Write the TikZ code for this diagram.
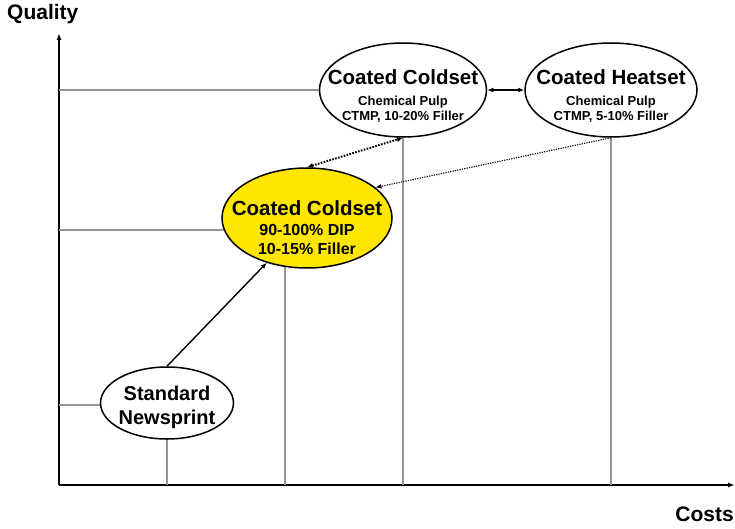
\documentclass[tikz,border=0pt]{standalone}
\usepackage{fontspec}
\setmainfont{Liberation Sans}
\usetikzlibrary{shapes.geometric,arrows.meta}
\definecolor{paperyellow}{RGB}{255,230,0}
\definecolor{gridgray}{RGB}{150,150,150}
\tikzset{
  bubble/.style={ellipse, draw=black, line width=1.5pt, fill=white, inner sep=0pt},
  grid line/.style={draw=gridgray, line width=1.1pt},
  axis/.style={draw=black, line width=1.6pt, -{Latex[length=7pt,width=5pt]}},
  link/.style={line width=1.4pt, -{Latex[length=6pt,width=5pt]}},
  title/.style={anchor=base, inner sep=0pt, font=\bfseries\fontsize{20.5}{22}\selectfont},
  subline/.style={anchor=base, inner sep=0pt, font=\bfseries\fontsize{13}{14}\selectfont},
}
\begin{document}
\begin{tikzpicture}[x=1pt, y=-1pt]
\useasboundingbox (0,0) rectangle (735,529);

% axes
\coordinate (origin) at (59,485);
\coordinate (ytip) at (59,33);
\coordinate (xtip) at (735,485);
\draw[axis] (origin) -- (ytip);
\draw[axis] (origin) -- (xtip);
\node[anchor=base west, inner sep=0pt, font=\bfseries\fontsize{21}{22}\selectfont] (qlabel) at (7,20) {Quality};
\node[anchor=base east, inner sep=0pt, font=\bfseries\fontsize{21}{22}\selectfont] (clabel) at (734,521) {Costs};

% reference points for the guide lines
\coordinate (ccC) at (403,90);
\coordinate (hsC) at (611,90);
\coordinate (ycC) at (307,218);
\coordinate (ycLevel) at (307,230);
\coordinate (ycFoot) at (285,218);
\coordinate (nsC) at (167,403);
\coordinate (nsLevel) at (167,405);

% guide lines to the axes (covered by the ellipses)
\draw[grid line] (ccC) -- (ccC -| origin);
\draw[grid line] (ccC) -- (ccC |- origin);
\draw[grid line] (hsC) -- (hsC |- origin);
\draw[grid line] (ycLevel) -- (ycLevel -| origin);
\draw[grid line] (ycFoot) -- (ycFoot |- origin);
\draw[grid line] (nsLevel) -- (nsLevel -| origin);
\draw[grid line] (nsC) -- (nsC |- origin);

% paper grades
\node[bubble, minimum width=167pt, minimum height=94pt] (cc) at (ccC) {};
\node[bubble, minimum width=172pt, minimum height=94pt] (hs) at (hsC) {};
\node[bubble, fill=paperyellow, minimum width=170pt, minimum height=100pt] (yc) at (ycC) {};
\node[bubble, minimum width=133pt, minimum height=72pt] (ns) at (nsC) {};

\node[title] (cc-t) at (403,85) {Coated Coldset};
\node[subline] (cc-a) at (403,106) {Chemical Pulp};
\node[subline] (cc-b) at (403,121) {CTMP, 10-20\% Filler};

\node[title] (hs-t) at (611,85) {Coated Heatset};
\node[subline] (hs-a) at (611,106) {Chemical Pulp};
\node[subline] (hs-b) at (611,121) {CTMP, 5-10\% Filler};

\node[title] (yc-t) at (307,215) {Coated Coldset};
\node[subline, font=\bfseries\fontsize{16}{17}\selectfont] (yc-a) at (307,236) {90-100\% DIP};
\node[subline, font=\bfseries\fontsize{16}{17}\selectfont] (yc-b) at (307,254) {10-15\% Filler};

\node[title, font=\bfseries\fontsize{20}{21}\selectfont] (ns-a) at (167,400) {Standard};
\node[title, font=\bfseries\fontsize{20}{21}\selectfont] (ns-b) at (167,424) {Newsprint};

% development paths
\draw[link] (ns.north) -- (yc.228);
\draw[link, {Latex[length=6pt,width=5pt]}-{Latex[length=6pt,width=5pt]}, line width=2pt, dash pattern=on 1.6pt off 1.4pt] (yc.north) -- (cc.south);
\draw[link, line width=1.1pt, dash pattern=on 1.2pt off 1.2pt] (hs.south) -- (yc.24);
\draw[link, {Latex[length=6pt,width=5pt]}-{Latex[length=6pt,width=5pt]}] (cc.east) -- (hs.west);
\end{tikzpicture}
\end{document}
